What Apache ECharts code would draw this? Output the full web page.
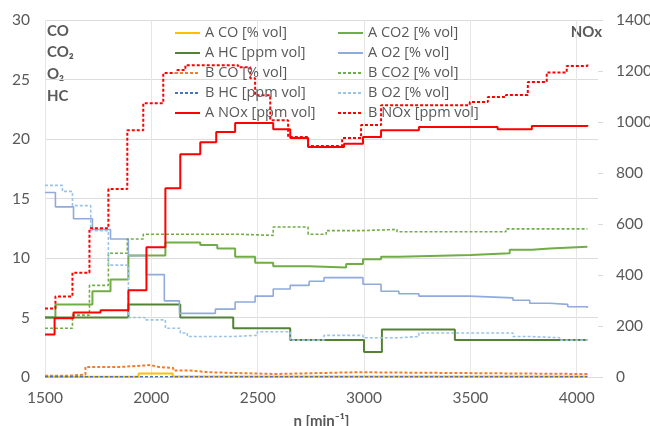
<!DOCTYPE html>
<html><head><meta charset="utf-8">
<script src="https://cdn.jsdelivr.net/npm/echarts@6/dist/echarts.min.js"></script>
<style>html,body{margin:0;padding:0;background:#fff}#c{width:650px;height:426px}</style>
</head><body><div id="c"></div>
<script>
// ---- data (rpm breakpoints and values, step-wise) ----
const xTicks = [1500, 2000, 2500, 3000, 3500, 4000];
const leftTicks = [0, 5, 10, 15, 20, 25, 30];
const rightTicks = [0, 200, 400, 600, 800, 1000, 1200, 1400];

const aCORpm = [1500, 1940, 2100, 4050];
const aCO = [0.02, 0.3, 0.05, 0.05];

const aCO2Rpm = [1500,1549,1723,1808,1892,2066,2230,2310,2394,2488,2573,2742,2916,2995,3080,3164,3502,3685,3789,3873,4050];
const aCO2 = [5.0,6.1,7.2,8.2,10.2,11.3,11.1,10.8,10.1,9.6,9.3,9.2,9.5,9.9,10.1,10.25,10.4,10.7,10.8,10.95,10.95];

const aHCRpm = [1500,1892,2136,2385,2653,3000,3084,3427,4050];
const aHC = [5.0,6.1,5.0,4.1,3.1,2.1,4.0,3.1,3.1];

const aO2Rpm = [1500,1549,1634,1723,1808,1892,1977,2061,2132,2301,2394,2488,2573,2653,2742,2812,2995,3080,3164,3258,3497,3700,3779,3873,3958,4050];
const aO2 = [15.5,14.3,13.3,12.4,11.6,10.2,8.6,6.4,5.35,5.7,6.3,6.8,7.4,7.7,8.05,8.35,7.8,7.2,7.0,6.8,6.65,6.45,6.2,6.1,5.9,5.8];

const bCORpm = [1500,1600,1690,1860,1996,2033,2103,2183,2268,2582,2967,4050];
const bCO = [0.1,0.2,0.85,1.0,0.85,0.75,0.55,0.4,0.25,0.4,0.25,0.25];

const bCO2Rpm = [1500,1629,1709,1798,1887,1962,2404,2573,2737,2822,2986,3155,3667,4050];
const bCO2 = [4.1,5.2,7.7,10.4,11.6,12.0,11.9,12.6,12.0,12.3,12.4,12.2,12.45,12.45];

const bHCRpm = [1500, 4050];
const bHC = [0.02, 0.02];

const bO2Rpm = [1500,1582,1629,1715,1798,1892,1970,2066,2136,2169,2385,2498,2653,2812,2995,3164,3258,3700,3779,3920,4050];
const bO2 = [16.1,15.6,14.4,12.3,9.4,5.0,4.8,4.1,3.7,3.4,3.5,3.8,3.1,3.5,3.3,3.4,3.7,3.4,3.3,3.1,3.1];

const aNOxRpm = [1500,1545,1634,1761,1892,1977,2066,2136,2230,2305,2394,2573,2653,2737,2906,2995,3080,3258,3628,3789,4050];
const aNOx = [167,230,253,262,340,509,740,874,921,961,996,972,937,902,915,941,968,980,972,984,988];

const bNOxRpm = [1500,1549,1629,1709,1798,1887,1962,2056,2122,2160,2408,2465,2488,2559,2643,2737,2897,2986,3080,3497,3582,3667,3770,3859,3953,4050];
const bNOx = [269,316,409,583,737,968,1074,1192,1204,1223,1215,1172,1105,1007,941,906,937,988,1066,1078,1098,1106,1157,1194,1220,1231];

// ---- chart ----
const FONT = 'Lato, "Open Sans", sans-serif';
const LFONT = '"Open Sans", Lato, sans-serif';
const TXT = '#595959';
function mk(name, rpm, val, color, dash, width, yi) {
  return {
    name: name, type: 'line', step: 'end', symbol: 'none', yAxisIndex: yi,
    data: rpm.map((r, i) => [r, val[i]]),
    lineStyle: { color: color, width: width, type: dash },
    itemStyle: { color: color },
    emphasis: { disabled: true },
    animation: false
  };
}
const series = [
  mk('A CO [% vol]', aCORpm, aCO, '#FFC000', 'solid', 2, 0),
  mk('A CO2 [% vol]', aCO2Rpm, aCO2, '#70AD47', 'solid', 2, 0),
  mk('A HC [ppm vol]', aHCRpm, aHC, '#548235', 'solid', 2, 0),
  mk('A O2 [% vol]', aO2Rpm, aO2, '#8FAADC', 'solid', 1.6, 0),
  mk('B CO [% vol]', bCORpm, bCO, '#ED7D31', [3, 2], 2, 0),
  mk('B CO2 [% vol]', bCO2Rpm, bCO2, '#70AD47', [3, 2], 1.6, 0),
  mk('B HC [ppm vol]', bHCRpm, bHC, '#4472C4', [3, 2], 1.6, 0),
  mk('B O2 [% vol]', bO2Rpm, bO2, '#9DC3E6', [3, 2], 1.6, 0),
  mk('A NOx [ppm vol]', aNOxRpm, aNOx, '#FF0000', 'solid', 2, 1),
  mk('B NOx [ppm vol]', bNOxRpm, bNOx, '#FF0000', [3, 2], 2, 1)
];
const legendCommon = {
  orient: 'vertical', top: 20, itemWidth: 25, itemHeight: 10, itemGap: 4,
  selectedMode: false,
  itemStyle: { opacity: 0 },
  textStyle: { fontFamily: LFONT, fontSize: 14.5, color: TXT, lineHeight: 16 }
};
const splitColors = xTicks.map(() => '#E6E6E6').concat(['rgba(0,0,0,0)']);
const chart = echarts.init(document.getElementById('c'), null, { renderer: 'canvas' });
chart.setOption({
  backgroundColor: '#fff',
  animation: false,
  grid: { left: 45, right: 52, top: 20, bottom: 49, containLabel: false, outerBoundsMode: 'none' },
  legend: [
    Object.assign({}, legendCommon, { left: 169, data: ['A CO [% vol]', 'A HC [ppm vol]', 'B CO [% vol]', 'B HC [ppm vol]', 'A NOx [ppm vol]'] }),
    Object.assign({}, legendCommon, { left: 332, data: ['A CO2 [% vol]', 'A O2 [% vol]', 'B CO2 [% vol]', 'B O2 [% vol]', 'B NOx [ppm vol]'] })
  ],
  xAxis: {
    type: 'value', min: xTicks[0], max: 4100, interval: 500,
    name: 'n [min\u207B\u00B9]', nameLocation: 'middle', nameGap: 37,
    nameTextStyle: { fontFamily: FONT, fontSize: 15, fontWeight: 'bold', color: TXT },
    axisLine: { show: false }, axisTick: { show: false },
    axisLabel: { showMaxLabel: false, fontFamily: FONT, fontSize: 15.5, color: TXT, margin: 13,
      formatter: v => xTicks.indexOf(v) >= 0 ? String(v) : '' },
    splitLine: { show: true, lineStyle: { color: splitColors, width: 1 } }
  },
  yAxis: [
    {
      type: 'value', min: leftTicks[0], max: leftTicks[leftTicks.length - 1], interval: 5,
      axisLine: { show: false }, axisTick: { show: false },
      axisLabel: { fontFamily: FONT, fontSize: 15.5, color: TXT, margin: 15, formatter: v => String(v) },
      splitLine: { show: true, lineStyle: { color: '#DCDCDC', width: 1 } }
    },
    {
      type: 'value', min: rightTicks[0], max: rightTicks[rightTicks.length - 1], interval: 200,
      position: 'right',
      axisLine: { show: false },
      axisTick: { show: true, length: 5, lineStyle: { color: '#D9D9D9' } },
      axisLabel: { fontFamily: FONT, fontSize: 15.5, color: TXT, margin: 18, formatter: v => String(v) },
      splitLine: { show: false }
    }
  ],
  graphic: [
    { type: 'text', left: 47, top: 24, style: { text: 'CO', font: 'bold 15px ' + FONT, fill: TXT } },
    { type: 'text', left: 47, top: 45, style: { text: 'CO\u2082', font: 'bold 15px ' + FONT, fill: TXT } },
    { type: 'text', left: 47, top: 67, style: { text: 'O\u2082', font: 'bold 15px ' + FONT, fill: TXT } },
    { type: 'text', left: 47, top: 89, style: { text: 'HC', font: 'bold 15px ' + FONT, fill: TXT } },
    { type: 'text', right: 48, top: 25, style: { text: 'NOx', font: 'bold 15px ' + FONT, fill: TXT } }
  ],
  series: series
});
</script></body></html>
